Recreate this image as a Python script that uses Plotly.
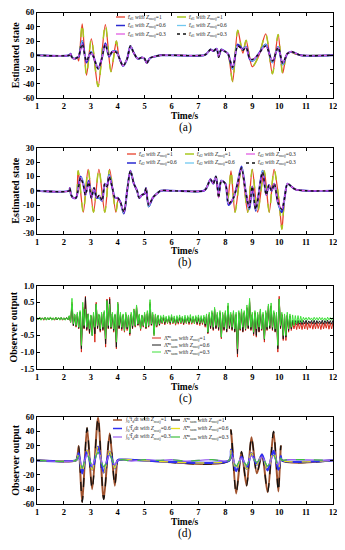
import numpy as np
import plotly.graph_objects as go

SERIF = "Liberation Serif"

# ---------------- Panel (a): Estimated state ----------------
a_z1 = [(1.0,0),(2.2,0),(2.25,2),(2.3,-3),(2.4,-5),(2.5,-3),(2.55,-8),(2.68,44),(2.84,-28),(3.02,23),(3.27,-44),
        (3.54,43),(3.75,-23),(3.95,20),(4.05,-3),(4.2,-15),(4.35,-5),(4.47,13),(4.6,3),(4.75,-5),(4.9,-3),(5.0,-5),
        (5.08,-11),(5.2,-4),(5.35,-2),(5.6,0),(6.0,0),(7.2,0),(7.3,2),(7.45,8),(7.55,6),(7.68,9),(7.75,-2),(7.85,8),
        (8.0,5),(8.1,2),(8.27,-37),(8.46,35),(8.65,3),(8.77,21),(9.0,-16),(9.25,0),(9.5,30),(9.75,-26),(9.96,29),
        (10.13,-25),(10.3,3),(10.45,4),(10.6,2),(10.8,0),(12.0,0)]
a_z06 = [(1.0,0),(2.2,0),(2.25,2),(2.3,-3),(2.4,-5),(2.5,-3),(2.55,-2),(2.68,20),(2.84,-10),(3.0,5),(3.1,-2),(3.27,-19),
         (3.4,-6),(3.54,17),(3.68,-2),(3.8,5),(3.95,5),(4.07,-5),(4.2,-15),(4.35,-5),(4.47,13),(4.6,3),(4.75,-5),
         (4.9,-3),(5.0,-5),(5.08,-11),(5.2,-4),(5.35,-2),(5.6,0),(6.0,0),(7.2,0),(7.3,2),(7.45,8),(7.55,6),(7.68,9),
         (7.75,-2),(7.85,8),(8.0,5),(8.1,2),(8.27,-19),(8.46,15),(8.6,10),(8.65,8),(8.77,12),(8.9,-5),(9.0,-8),
         (9.2,0),(9.5,15),(9.75,-10),(9.96,12),(10.13,-13),(10.3,2),(10.45,5),(10.6,3),(10.8,0),(12.0,0)]
a_z03 = [(1.0,0),(2.2,0),(2.25,2),(2.3,-3),(2.4,-5),(2.5,-3),(2.55,-1),(2.68,16),(2.84,-8),(3.0,4),(3.1,-2),(3.27,-19),
         (3.4,-6),(3.54,15),(3.68,-1),(3.8,5),(3.95,4),(4.07,-5),(4.2,-15),(4.35,-5),(4.47,13),(4.6,3),(4.75,-5),
         (4.9,-3),(5.0,-5),(5.08,-11),(5.2,-4),(5.35,-2),(5.6,0),(6.0,0),(7.2,0),(7.3,2),(7.45,8),(7.55,6),(7.68,9),
         (7.75,-3),(7.85,8),(8.0,5),(8.1,2),(8.27,-17),(8.46,13),(8.6,9),(8.65,7),(8.77,11),(8.9,-4),(9.0,-6),
         (9.2,0),(9.5,13),(9.75,-8),(9.96,11),(10.13,-11),(10.3,2),(10.45,5),(10.6,3),(10.8,0),(12.0,0)]

# ---------------- Panel (b): Estimated state ----------------
b_z1 = [(1,0),(2.2,0),(2.22,2),(2.27,-3),(2.35,-5),(2.45,-5),(2.53,14),(2.72,-15),(2.9,15),(3.1,-15),(3.3,15),
        (3.52,-15),(3.7,15),(3.93,-15),(4.02,-6),(4.1,-8),(4.23,-16),(4.35,0),(4.47,14),(4.6,5),(4.72,0),(4.8,-5),
        (4.9,-3),(5.0,-2),(5.05,2),(5.15,-11),(5.3,-5),(5.4,-3),(5.6,0),(6,0),(7.2,0),(7.3,2),(7.45,8),(7.55,5),
        (7.65,10),(7.75,-3),(7.85,7),(8.0,5),(8.1,-5),(8.21,14),(8.36,-15),(8.6,16),(8.83,-15),(9.0,15),(9.2,-15),
        (9.44,14),(9.63,-15),(9.81,15),(10.0,-8),(10.1,-27),(10.18,-10),(10.31,5),(10.45,3),(10.6,1),(11,0),(12,0)]
b_z06 = [(1,0),(2.2,0),(2.22,2),(2.27,-3),(2.35,-5),(2.45,-5),(2.62,10),(2.72,5),(2.8,-3),(2.92,7),(3.02,-5),
         (3.12,2),(3.22,-5),(3.32,-5),(3.42,-7),(3.52,5),(3.6,3),(3.68,11),(3.8,2),(3.9,-5),(4.0,-5),(4.1,-8),
         (4.23,-16),(4.35,0),(4.47,14),(4.6,5),(4.72,0),(4.8,-5),(4.9,-3),(5.0,-2),(5.05,2),(5.15,-11),(5.3,-5),
         (5.4,-3),(5.6,0),(6,0),(7.2,0),(7.3,2),(7.45,8),(7.55,5),(7.65,10),(7.75,-3),(7.85,7),(8.0,5),(8.12,-10),
         (8.3,-5),(8.45,5),(8.6,17),(8.75,0),(8.89,-13),(9.0,3),(9.13,-14),(9.38,14),(9.52,-3),(9.62,4),(9.72,0),
         (9.82,5),(9.95,-8),(10.1,-15),(10.2,-5),(10.31,5),(10.45,3),(10.6,1),(11,0),(12,0)]
b_z03 = [(1,0),(2.2,0),(2.22,2),(2.27,-3),(2.35,-5),(2.45,-5),(2.62,9),(2.72,4),(2.8,-3),(2.92,6),(3.02,-5),
         (3.12,2),(3.22,-5),(3.32,-3),(3.42,-7),(3.52,5),(3.6,3),(3.68,10),(3.8,2),(3.9,-5),(4.0,-5),(4.1,-8),
         (4.23,-15),(4.35,0),(4.47,14),(4.6,5),(4.72,0),(4.8,-5),(4.9,-3),(5.0,-2),(5.05,2),(5.15,-10),(5.3,-5),
         (5.4,-3),(5.6,0),(6,0),(7.2,0),(7.3,2),(7.45,8),(7.55,5),(7.65,10),(7.75,-5),(7.85,7),(8.0,5),(8.12,-9),
         (8.3,-5),(8.45,5),(8.6,16),(8.75,0),(8.89,-12),(9.0,3),(9.13,-13),(9.38,13),(9.52,-3),(9.62,4),(9.72,0),
         (9.82,5),(9.95,-8),(10.1,-13),(10.2,-5),(10.31,5),(10.45,3),(10.6,1),(11,0),(12,0)]

# ---------------- Panel (c): Observer output (upper / lower swing every 0.1 s, t = 1.0 ... 12.0) ----------------
c_z1_hi = [0.03,0.04,0.03,0.04,0.03,0.05,0.03,0.04,0.03,0.04,0.03,0.04,
           0.08,0.5,0.12,0.15,0.2,0.35,0.68,0.15,0.1,0.15,0.5,0.12,0.15,0.2,0.6,0.65,0.15,0.12,0.5,0.15,0.12,0.15,
           0.1,0.15,0.3,0.38,0.12,0.1,0.15,0.2,0.5,0.15,0.12,0.1,
           0.05,0.06,0.04,0.05,0.07,0.04,0.05,0.06,0.04,0.05,0.06,0.04,0.05,0.06,0.05,0.04,0.06,
           0.1,0.15,0.2,0.3,0.15,0.2,0.15,0.2,0.4,0.15,0.2,0.15,0.2,0.25,0.2,0.35,0.55,0.15,0.2,0.15,0.25,0.15,
           0.2,0.4,0.4,0.2,0.15,0.68,0.15,0.1,0.12,0.1,-0.1,-0.12,-0.1,-0.12,
           -0.12,-0.1,-0.13,-0.11,-0.12,-0.1,-0.13,-0.11,-0.12,-0.1,-0.12,-0.11]
c_z1_lo = [-0.03,-0.02,-0.04,-0.03,-0.02,-0.03,-0.04,-0.03,-0.02,-0.04,-0.03,-0.03,
           -0.1,-0.2,-0.25,-0.3,-1.0,-0.3,-0.35,-0.45,-0.4,-0.7,-0.3,-0.4,-0.35,-0.85,-0.3,-0.3,-0.4,-0.9,-0.3,
           -0.35,-0.4,-0.35,-0.5,-0.3,-0.25,-0.2,-0.35,-0.25,-0.3,-0.25,-0.2,-0.5,-0.25,-0.2,
           -0.15,-0.18,-0.14,-0.17,-0.15,-0.19,-0.16,-0.15,-0.18,-0.14,-0.17,-0.16,-0.15,-0.18,-0.2,-0.17,-0.25,
           -0.45,-0.3,-0.35,-0.3,-0.35,-0.6,-0.35,-0.4,-0.3,-0.35,-0.4,-1.15,-0.35,-0.4,-0.35,-0.3,-0.35,-0.5,
           -0.55,-0.4,-0.35,-0.7,-0.35,-0.3,-0.35,-0.4,-1.0,-0.3,-0.65,-0.65,-0.4,-0.35,-0.3,-0.32,-0.3,-0.32,
           -0.3,-0.32,-0.28,-0.31,-0.3,-0.29,-0.32,-0.3,-0.28,-0.31,-0.3,-0.29]
c_z06_hi = [0.03,0.04,0.03,0.04,0.03,0.04,0.03,0.04,0.03,0.04,0.03,0.04,
            0.08,0.45,0.12,0.15,0.2,0.3,0.65,0.15,0.1,0.12,0.45,0.12,0.15,0.2,0.55,0.6,0.15,0.12,0.45,0.12,0.1,
            0.12,0.1,0.12,0.25,0.35,0.1,0.1,0.12,0.15,0.45,0.12,0.1,0.08,
            0.04,0.05,0.03,0.04,0.06,0.03,0.04,0.05,0.03,0.04,0.05,0.03,0.04,0.05,0.04,0.03,0.05,
            0.08,0.12,0.18,0.28,0.12,0.18,0.12,0.18,0.38,0.12,0.18,0.12,0.18,0.22,0.18,0.32,0.5,0.12,0.18,0.12,
            0.22,0.12,0.18,0.38,0.38,0.18,0.12,0.6,0.12,0.08,0.1,0.08,-0.04,-0.05,-0.04,-0.05,
            -0.05,-0.04,-0.06,-0.05,-0.04,-0.05,-0.06,-0.04,-0.05,-0.04,-0.05,-0.04]
c_z06_lo = [-0.03,-0.03,-0.02,-0.03,-0.03,-0.02,-0.03,-0.03,-0.02,-0.03,-0.03,-0.02,
            -0.1,-0.2,-0.22,-0.28,-0.9,-0.28,-0.32,-0.42,-0.5,-0.45,-0.28,-0.35,-0.32,-0.75,-0.28,-0.28,-0.35,
            -0.85,-0.28,-0.3,-0.35,-0.3,-0.45,-0.28,-0.22,-0.18,-0.3,-0.22,-0.28,-0.22,-0.18,-0.45,-0.22,-0.18,
            -0.12,-0.14,-0.11,-0.13,-0.12,-0.15,-0.12,-0.11,-0.14,-0.11,-0.13,-0.12,-0.11,-0.14,-0.15,-0.13,-0.2,
            -0.42,-0.28,-0.32,-0.28,-0.32,-0.55,-0.32,-0.38,-0.28,-0.32,-0.38,-1.05,-0.32,-0.38,-0.32,-0.28,-0.32,
            -0.45,-0.5,-0.38,-0.32,-0.62,-0.32,-0.28,-0.32,-0.38,-0.9,-0.28,-0.6,-0.55,-0.35,-0.3,-0.18,-0.17,
            -0.16,-0.17,
            -0.15,-0.16,-0.14,-0.15,-0.16,-0.14,-0.15,-0.16,-0.14,-0.15,-0.16,-0.15]
c_z03_hi = [0.04,0.05,0.03,0.05,0.04,0.06,0.03,0.05,0.04,0.05,0.03,0.04,
            0.1,0.62,0.15,0.2,0.25,0.5,0.3,0.15,0.12,0.2,0.45,0.15,0.2,0.25,0.55,0.45,0.2,0.15,0.5,0.2,0.15,0.2,
            0.12,0.2,0.3,0.42,0.15,0.12,0.2,0.25,0.58,0.2,0.15,0.12,
            0.1,0.12,0.08,0.1,0.13,0.09,0.1,0.12,0.08,0.11,0.1,0.13,0.09,0.1,0.12,0.1,0.11,
            0.15,0.2,0.25,0.35,0.2,0.25,0.2,0.25,0.48,0.2,0.25,0.2,0.25,0.3,0.25,0.42,0.62,0.2,0.25,0.2,0.3,0.2,
            0.25,0.45,0.48,0.25,0.2,0.6,0.2,0.15,0.2,0.15,0.12,0.1,0.1,0.08,
            0.05,0.04,0.05,0.03,0.05,0.04,0.05,0.04,0.03,0.05,0.04,0.04]
c_z03_lo = [-0.03,-0.04,-0.02,-0.04,-0.03,-0.04,-0.03,-0.02,-0.04,-0.03,-0.04,-0.03,
            -0.1,-0.15,-0.2,-0.25,-0.8,-0.2,-0.25,-0.3,-0.5,-0.25,-0.2,-0.3,-0.25,-0.6,-0.2,-0.25,-0.3,-0.7,-0.2,
            -0.25,-0.35,-0.25,-0.42,-0.2,-0.2,-0.15,-0.3,-0.2,-0.25,-0.2,-0.15,-0.5,-0.2,-0.15,
            -0.12,-0.1,-0.13,-0.1,-0.12,-0.14,-0.1,-0.12,-0.11,-0.13,-0.1,-0.12,-0.14,-0.1,-0.13,-0.12,-0.15,
            -0.4,-0.2,-0.25,-0.2,-0.25,-0.55,-0.25,-0.3,-0.2,-0.25,-0.3,-0.9,-0.3,-0.25,-0.3,-0.2,-0.25,-0.4,
            -0.3,-0.25,-0.3,-0.6,-0.25,-0.2,-0.25,-0.3,-0.8,-0.2,-0.5,-0.5,-0.3,-0.25,-0.2,-0.15,-0.12,-0.1,
            -0.03,-0.04,-0.03,-0.05,-0.03,-0.04,-0.03,-0.04,-0.05,-0.03,-0.04,-0.03]

# ---------------- Panel (d): Observer output ----------------
d_z1 = [(1,0),(2.45,0),(2.5,5),(2.55,20),(2.68,-58),(2.86,45),(3.05,-40),(3.27,59),(3.48,-54),(3.7,37),(3.89,-35),
        (3.97,-5),(4.0,0),(8.15,0),(8.21,42),(8.4,-46),(8.6,12),(8.79,-35),(8.97,32),(9.17,-18),(9.36,8),(9.57,-44),
        (9.79,40),(9.97,-43),(10.06,20),(10.1,0),(12,0)]
d_z06 = [(1,0),(2.45,0),(2.5,3),(2.55,10),(2.68,-18),(2.86,14),(3.05,-13),(3.27,19),(3.48,-17),(3.7,12),(3.89,-11),
         (3.97,-2),(4.0,0),(4.05,1),(8.15,0),(8.21,15),(8.4,-15),(8.6,5),(8.79,-12),(8.97,10),(9.17,-6),(9.36,8),
         (9.57,-14),(9.79,13),(9.97,-13),(10.06,6),(10.1,0),(12,0)]
d_z03 = [(1,0),(2.45,0),(2.55,6),(2.68,-10),(2.86,8),(3.05,-7),(3.27,11),(3.48,-9),(3.7,7),(3.89,-6),(4.0,0),
         (4.2,1),(4.5,-1),(5.0,1),(5.5,0),(6.0,1),(6.5,-1),(7.0,0),(7.5,1),(8.0,-1),(8.15,0),(8.21,8),(8.4,-8),
         (8.6,3),(8.79,-7),(8.97,6),(9.17,-3),(9.36,5),(9.57,-8),(9.79,7),(9.97,-7),(10.06,3),(10.1,0),(10.3,1),(12,0)]

x_ticks = list(range(1, 13))
ya_ticks = [-60, -40, -20, 0, 20, 40, 60]
yb_ticks = [-30, -20, -10, 0, 10, 20, 30]
yc_ticks = [-1.5, -1.0, -0.5, 0, 0.5, 1.0]
yc_text = ["-1.5", "-1.0", "-0.5", "0", "0.5", "1.0"]
yd_ticks = [-60, -40, -20, 0, 20, 40, 60]

# ---------------- geometry (page pixels; the page body has an 8 px margin) ----------------
OFF = 8
W, H = 345 - 2 * OFF, 550 - 2 * OFF


def px(xp):
    return (xp - OFF) / W


def py(yp):
    return 1 - (yp - OFF) / H


def tv(pairs):
    return [p[0] for p in pairs], [p[1] for p in pairs]


def swing(hi, lo):
    t0 = np.round(1.0 + 0.1 * np.arange(len(hi)), 3)
    t = np.empty(2 * len(hi) - 1)
    y = np.empty(2 * len(hi) - 1)
    t[0::2] = t0
    y[0::2] = hi
    t[1::2] = t0[:-1] + 0.05
    y[1::2] = lo[:-1]
    return t, y


fig = go.Figure()
shapes, annots = [], []

Z = "<i>with Z</i><sub><i>moij</i></sub>"
LAM = "Λ̂<sup>m</sup><sub>sum</sub> "
INT = "∫<sub>0</sub><sup>t</sup>f̂<sub>d</sub>dt "

S = {
    "red": dict(color="#e8402a", width=1.3, dash="solid"),
    "ygreen": dict(color="#a8c820", width=1.5, dash="dash"),
    "blue": dict(color="#2a2ad0", width=2.0, dash="solid"),
    "cyan": dict(color="#70c8f0", width=1.3, dash="dash"),
    "magenta": dict(color="#e050e0", width=1.2, dash="solid"),
    "blackdot": dict(color="#111111", width=1.4, dash="dot"),
    "cred": dict(color="#d82a1a", width=1.0, dash="solid"),
    "cblack": dict(color="#1a1a1a", width=1.0, dash="solid"),
    "cgreen": dict(color="#3ee03a", width=1.0, dash="solid"),
    "brown": dict(color="#a0522d", width=2.0, dash="solid"),
    "blackdash": dict(color="#111111", width=1.3, dash="dash"),
    "dblue": dict(color="#3030f0", width=2.2, dash="solid"),
    "yellow": dict(color="#e8e020", width=1.3, dash="dash"),
    "violet": dict(color="#9a60f0", width=1.2, dash="solid"),
    "dgreen": dict(color="#40c040", width=1.2, dash="dash"),
}


def legend_entry(xp, yp, text, style):
    # short line sample + label, positioned in page pixels
    shapes.append(dict(type="line", xref="paper", yref="paper", x0=px(xp), x1=px(xp + 9), y0=py(yp), y1=py(yp),
                       line=dict(color=style["color"], width=min(style["width"], 1.5), dash=style["dash"])))
    annots.append(dict(text=text, x=px(xp + 10), y=py(yp), xref="paper", yref="paper", showarrow=False,
                       xanchor="left", yanchor="middle", font=dict(family=SERIF, size=5.5, color="#222222")))


def add(pairs, xa, ya, name, key):
    t, y = tv(pairs)
    st = S[key]
    fig.add_trace(go.Scatter(x=t, y=y, mode="lines", name=name, xaxis=xa, yaxis=ya, showlegend=False,
                             line=dict(color=st["color"], width=st["width"], dash=st["dash"],
                                       shape="spline", smoothing=0.8)))


# (a)
entries_a = [(a_z1, "r̂<sub>d1</sub> " + Z + "=1", "red", 116, 17),
             (a_z1, "r̃<sub>d1</sub> " + Z + "=1", "ygreen", 177, 17),
             (a_z06, "r̂<sub>d1</sub> " + Z + "=0.6", "blue", 116, 25.5),
             (a_z06, "r̃<sub>d1</sub> " + Z + "=0.6", "cyan", 177, 25.5),
             (a_z03, "r̂<sub>d1</sub> " + Z + "=0.3", "magenta", 116, 34),
             (a_z03, "r̃<sub>d1</sub> " + Z + "=0.3", "blackdot", 177, 34)]
for data, name, key, lx, ly in entries_a:
    add(data, "x", "y", name, key)
    legend_entry(lx, ly, name, S[key])

# (b)
entries_b = [(b_z1, "r̂<sub>d2</sub> " + Z + "=1", "red", 127, 154),
             (b_z1, "r̃<sub>d2</sub> " + Z + "=1", "ygreen", 185, 154),
             (b_z06, "r̂<sub>d2</sub> " + Z + "=0.6", "blue", 127, 163),
             (b_z06, "r̃<sub>d2</sub> " + Z + "=0.6", "cyan", 185, 163),
             (b_z03, "r̂<sub>d2</sub> " + Z + "=0.3", "magenta", 246, 154),
             (b_z03, "r̃<sub>d2</sub> " + Z + "=0.3", "blackdot", 246, 163)]
for data, name, key, lx, ly in entries_b:
    add(data, "x2", "y2", name, key)
    legend_entry(lx, ly, name, S[key])

# (c)
for hi, lo, name, key, ly in [(c_z1_hi, c_z1_lo, LAM + Z + "=1", "cred", 338),
                              (c_z06_hi, c_z06_lo, LAM + Z + "=0.6", "cblack", 345),
                              (c_z03_hi, c_z03_lo, LAM + Z + "=0.3", "cgreen", 352)]:
    t, y = swing(hi, lo)
    st = S[key]
    fig.add_trace(go.Scatter(x=t, y=y, mode="lines", name=name, xaxis="x3", yaxis="y3", showlegend=False,
                             line=dict(color=st["color"], width=st["width"])))
    legend_entry(152, ly, name, st)

# (d)
entries_d = [(d_z1, INT + Z + "=1", "brown", 113, 420),
             (d_z1, LAM + Z + "=1", "blackdash", 171, 420),
             (d_z06, INT + Z + "=0.6", "dblue", 113, 428.5),
             (d_z06, LAM + Z + "=0.6", "yellow", 171, 428.5),
             (d_z03, INT + Z + "=0.3", "violet", 113, 437),
             (d_z03, LAM + Z + "=0.3", "dgreen", 171, 437)]
for data, name, key, lx, ly in entries_d:
    add(data, "x4", "y4", name, key)
    legend_entry(lx, ly, name, S[key])

XDOM = [px(37), px(333)]


def ydom(top, bot):
    return [py(bot), py(top)]


tickfont = dict(family=SERIF, size=8.5, color="black", weight="bold")
titlefont = dict(family=SERIF, size=10, color="black", weight="bold")
base = dict(showline=True, mirror="ticks", linecolor="black", linewidth=1, ticks="inside", ticklen=3,
            tickcolor="black", showgrid=False, zeroline=False, tickfont=tickfont, automargin=False,
            ticklabeloverflow="allow")


def xax(anchor):
    return dict(base, domain=XDOM, range=[1, 12], tickvals=x_ticks, anchor=anchor)


def yax(anchor, dom, rng, tv_, tt, title):
    return dict(base, domain=dom, range=rng, tickvals=tv_, ticktext=tt, anchor=anchor,
                title=dict(text=title, font=titlefont, standoff=1))


# x-axis titles and panel captions
xt_font = dict(family=SERIF, size=9.5, color="black", weight="bold")
for cap, yt, yc in [("(a)", 115.5, 127.5), ("(b)", 251, 262.5), ("(c)", 386.5, 398), ("(d)", 521.5, 533)]:
    annots.append(dict(text="Time/s", x=px(185), y=py(yt), xref="paper", yref="paper", showarrow=False,
                       font=xt_font, xanchor="center", yanchor="middle"))
    annots.append(dict(text=cap, x=px(185), y=py(yc), xref="paper", yref="paper", showarrow=False,
                       font=dict(family=SERIF, size=11.5, color="black"), xanchor="center", yanchor="middle"))

fig.update_layout(
    width=W, height=H, margin=dict(l=0, r=0, t=0, b=0), paper_bgcolor="white", plot_bgcolor="white",
    showlegend=False,
    xaxis=xax("y"), xaxis2=xax("y2"), xaxis3=xax("y3"), xaxis4=xax("y4"),
    yaxis=yax("x", ydom(12.5, 98), [-60, 60], ya_ticks, [str(v) for v in ya_ticks], "Estimated state"),
    yaxis2=yax("x2", ydom(148, 233.5), [-30, 30], yb_ticks, [str(v) for v in yb_ticks], "Estimated state"),
    yaxis3=yax("x3", ydom(285.7, 368.7), [-1.5, 1.0], yc_ticks, yc_text, "Observer output"),
    yaxis4=yax("x4", ydom(417, 503.7), [-60, 60], yd_ticks, [str(v) for v in yd_ticks], "Observer output"),
    shapes=shapes, annotations=annots,
)

fig.write_html("out.html")
